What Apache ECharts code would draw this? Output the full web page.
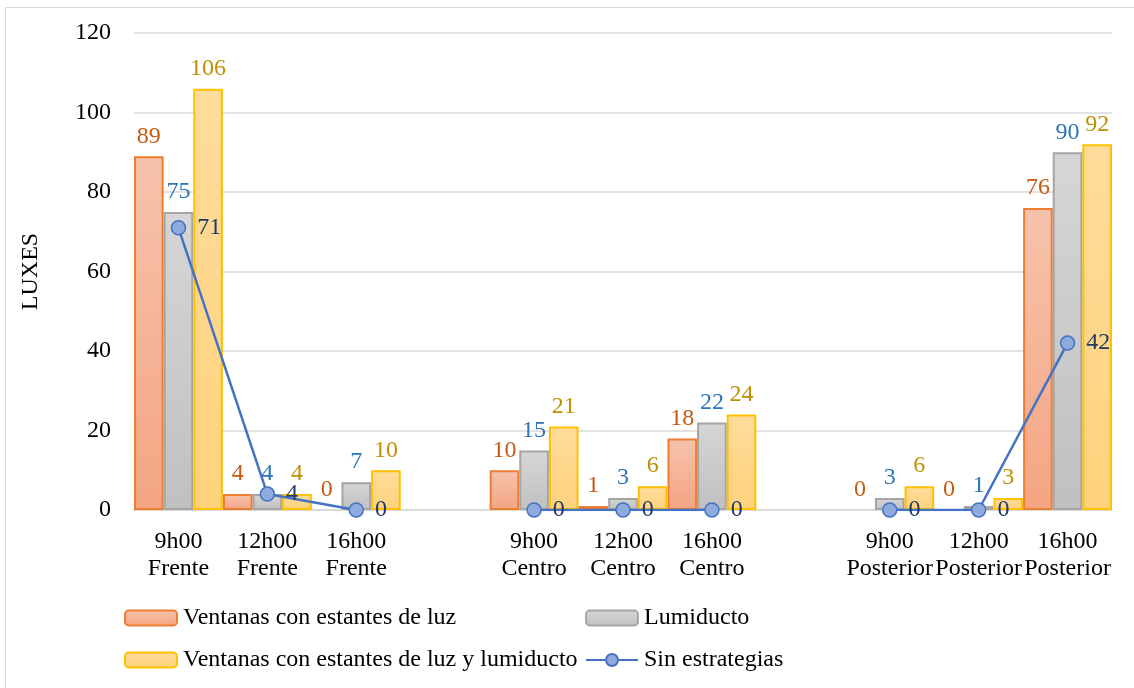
<!DOCTYPE html>
<html>
<head>
<meta charset="utf-8">
<script src="https://cdn.jsdelivr.net/npm/echarts@6/dist/echarts.min.js"></script>
<style>
  html, body { margin: 0; padding: 0; background: #ffffff; }
  #chart { width: 1134px; height: 688px; }
</style>
</head>
<body>
<div id="chart"></div>
<script>
// Categories (blank entries separate the three zones)
const categories = [
  '9h00\nFrente', '12h00\nFrente', '16h00\nFrente', '',
  '9h00\nCentro', '12h00\nCentro', '16h00\nCentro', '',
  '9h00\nPosterior', '12h00\nPosterior', '16h00\nPosterior'
];
const ventanas = [89, 4, 0, null, 10, 1, 18, null, 0, 0, 76];
const lumiducto = [75, 4, 7, null, 15, 3, 22, null, 3, 1, 90];
const ventanasLumiducto = [106, 4, 10, null, 21, 6, 24, null, 6, 3, 92];
const sinEstrategias = [71, 4, 0, null, 0, 0, 0, null, 0, 0, 42];
const yTicks = { min: 0, max: 120, interval: 20 };

const FONT = '"Liberation Serif", "Times New Roman", serif';
const FS = 24;

function grad(top, bottom) {
  return new echarts.graphic.LinearGradient(0, 0, 0, 1, [
    { offset: 0, color: top }, { offset: 1, color: bottom }
  ]);
}

// zero-height bars get no outline so they leave no stroke on the baseline
function withEmptyZeros(values) {
  return values.map(v => (v === 0 ? { value: 0, itemStyle: { borderWidth: 0 } } : v));
}

function barSeries(name, data, top, bottom, border, labelColor) {
  return {
    name, type: 'bar', data: withEmptyZeros(data),
    barGap: '0%', barCategoryGap: '0%',
    itemStyle: { color: grad(top, bottom), borderColor: border, borderWidth: 2 },
    label: {
      show: true, position: 'top', distance: 8,
      color: labelColor, fontFamily: FONT, fontSize: FS
    },
    emphasis: { disabled: true }
  };
}

const chart = echarts.init(document.getElementById('chart'), null, { renderer: 'canvas' });

const legendText = { fontFamily: FONT, fontSize: FS, color: '#000000', padding: [0, 0, 0, 1] };
function legendAt(name, left, top) {
  return {
    data: [name], left, top, itemWidth: 52, itemHeight: 15, itemGap: 0,
    textStyle: legendText, selectedMode: false, padding: 0
  };
}

chart.setOption({
  animation: false,
  backgroundColor: '#ffffff',
  graphic: [{
    type: 'rect', left: 3, top: 5, silent: true,
    shape: { width: 1140, height: 700 },
    style: { fill: 'none', stroke: '#D9D9D9', lineWidth: 1 }
  }],
  grid: { left: 134, right: 22, top: 33, bottom: 178 },
  legend: [
    legendAt('Ventanas con estantes de luz', 124, 606),
    legendAt('Lumiducto', 585, 606),
    legendAt('Ventanas con estantes de luz y lumiducto', 124, 648),
    legendAt('Sin estrategias', 585, 648)
  ],
  xAxis: {
    type: 'category', data: categories,
    axisLine: { lineStyle: { color: '#D9D9D9', width: 1.5 } },
    axisTick: { show: false },
    axisLabel: {
      interval: 0, margin: 18, color: '#000000',
      fontFamily: FONT, fontSize: FS, lineHeight: 27
    }
  },
  yAxis: {
    type: 'value', min: yTicks.min, max: yTicks.max, interval: yTicks.interval,
    name: 'LUXES', nameLocation: 'middle', nameGap: 91, nameRotate: 90,
    nameTextStyle: { fontFamily: FONT, fontSize: FS, color: '#000000' },
    axisLine: { show: false }, axisTick: { show: false },
    axisLabel: { margin: 23, color: '#000000', fontFamily: FONT, fontSize: FS },
    splitLine: { lineStyle: { color: '#D9D9D9', width: 1.5 } }
  },
  series: [
    barSeries('Ventanas con estantes de luz', ventanas, '#F7C3AC', '#F4A582', '#ED7D31', '#C55A11'),
    barSeries('Lumiducto', lumiducto, '#D6D6D6', '#C0C0C0', '#A5A5A5', '#2E75B6'),
    barSeries('Ventanas con estantes de luz y lumiducto', ventanasLumiducto, '#FFDC9C', '#FFD27C', '#FFC000', '#BF9000'),
    {
      name: 'Sin estrategias', type: 'line', data: sinEstrategias,
      connectNulls: false, z: 5,
      lineStyle: { color: '#4472C4', width: 2.5 },
      symbol: 'circle', symbolSize: 14,
      itemStyle: { color: '#8FAADC', borderColor: '#4472C4', borderWidth: 1.5 },
      label: {
        show: true, position: 'right', distance: 11,
        color: '#203864', fontFamily: FONT, fontSize: FS
      },
      emphasis: { disabled: true }
    }
  ]
});
</script>
</body>
</html>
